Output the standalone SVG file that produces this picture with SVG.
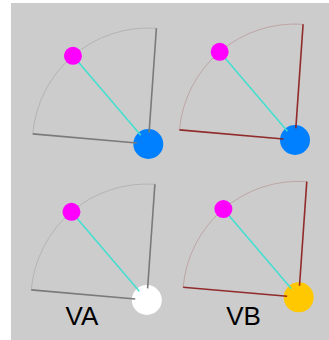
<svg xmlns="http://www.w3.org/2000/svg" width="329" height="340" viewBox="0 0 329 340">
<style>
.arc{fill:none;stroke-width:1}
.rad{fill:none;stroke-width:1.6}
.ga{stroke:#b4b4b4}
.gr{stroke:#7a7a7a}
.ra{stroke:#8b1a1a;stroke-opacity:0.22}
.rr{stroke:#8b1a1a;stroke-opacity:0.9}
.link{stroke:#40e0d0;stroke-width:1.5}
.dot{fill:#ff00ff}
.lbl{font-family:"Liberation Sans",Arial,sans-serif;font-size:26px;fill:#000;text-anchor:middle}
</style>
<rect x="11" y="3" width="318" height="337" fill="#cccccc"/>
<g id="panel-1" transform="translate(148.3,144)">
<circle r="15" fill="#0080ff"/>
<path class="arc ga" d="M-115.56,-10.11 A116,116 0 0 1 8.09,-115.72"/>
<path class="rad gr" d="M-115.56,-10.11 L-11.56,-1.01 M8.09,-115.72 L0.81,-11.57"/>
</g>
<g id="panel-2" transform="translate(295,140)">
<circle r="15" fill="#0080ff"/>
<path class="arc ra" d="M-115.56,-10.11 A116,116 0 0 1 8.09,-115.72"/>
<path class="rad rr" d="M-115.56,-10.11 L-11.56,-1.01 M8.09,-115.72 L0.81,-11.57"/>
</g>
<g id="panel-3" transform="translate(146.8,300)">
<circle r="15" fill="#ffffff"/>
<path class="arc ga" d="M-115.56,-10.11 A116,116 0 0 1 8.09,-115.72"/>
<path class="rad gr" d="M-115.56,-10.11 L-11.56,-1.01 M8.09,-115.72 L0.81,-11.57"/>
</g>
<g id="panel-4" transform="translate(298.7,297.3)">
<circle r="15" fill="#ffc800"/>
<path class="arc ra" d="M-115.56,-10.11 A116,116 0 0 1 8.09,-115.72"/>
<path class="rad rr" d="M-115.56,-10.11 L-11.56,-1.01 M8.09,-115.72 L0.81,-11.57"/>
</g>
<g id="connectors">
<line class="link" x1="72.97" y1="55.79" x2="140.77" y2="135.18"/>
<line class="link" x1="219.67" y1="51.79" x2="287.47" y2="131.18"/>
<line class="link" x1="71.47" y1="211.79" x2="139.27" y2="291.18"/>
<line class="link" x1="223.37" y1="209.09" x2="291.17" y2="288.48"/>
</g>
<g id="handles">
<circle class="dot" cx="72.97" cy="55.79" r="9"/>
<circle class="dot" cx="219.67" cy="51.79" r="9"/>
<circle class="dot" cx="71.47" cy="211.79" r="9"/>
<circle class="dot" cx="223.37" cy="209.09" r="9"/>
</g>
<g id="labels">
<text class="lbl" x="82" y="325">VA</text>
<text class="lbl" x="243.5" y="325">VB</text>
</g>
</svg>
